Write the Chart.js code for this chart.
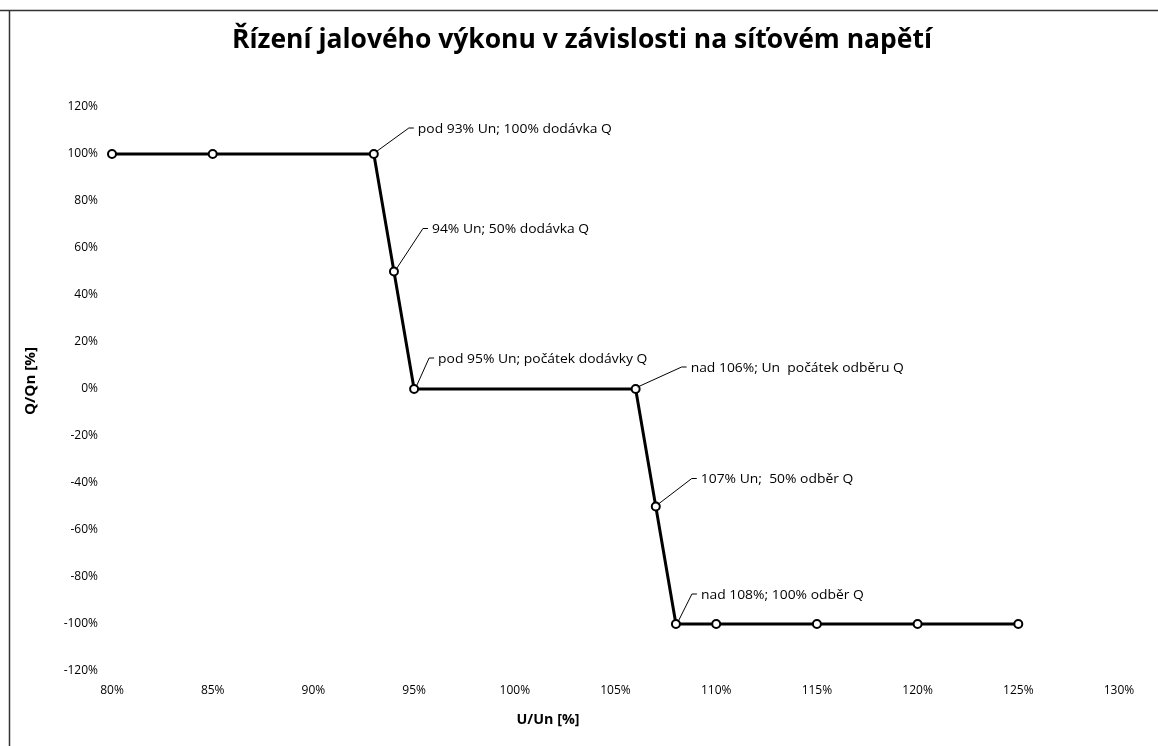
<!DOCTYPE html>
<html>
<head>
<meta charset="utf-8">
<script src="https://cdn.jsdelivr.net/npm/chart.js@4/dist/chart.umd.min.js"></script>
<style>
html,body{margin:0;padding:0;background:#fff;}
#wrap{width:1158px;height:746px;position:relative;}
</style>
</head>
<body>
<div id="wrap"><canvas id="c" width="1158" height="746"></canvas></div>
<script>
const chartTitle = 'Řízení jalového výkonu v závislosti na síťovém napětí';
const xAxisTitle = 'U/Un [%]';
const yAxisTitle = 'Q/Qn [%]';
const xValues = [80, 85, 93, 94, 95, 106, 107, 108, 110, 115, 120, 125];
const yValues = [100, 100, 100, 50, 0, 0, -50, -100, -100, -100, -100, -100];
const xTickValues = [80, 85, 90, 95, 100, 105, 110, 115, 120, 125, 130];
const yTickValues = [-120, -100, -80, -60, -40, -20, 0, 20, 40, 60, 80, 100, 120];
const annotationPoints = [2, 3, 4, 5, 6, 7];
const annotationTexts = [
  'pod 93% Un; 100% dodávka Q',
  '94% Un; 50% dodávka Q',
  'pod 95% Un; počátek dodávky Q',
  'nad 106%; Un  počátek odběru Q',
  '107% Un;  50% odběr Q',
  'nad 108%; 100% odběr Q'
];
const annotationOffsets = [[35,-26],[29,-43],[15,-31],[46,-22],[36,-28],[16,-30]];

const FONT = "'Open Sans', 'DejaVu Sans', sans-serif";

function fitText(ctx, text, x, y, w, align) {
  const m = ctx.measureText(text).width;
  const s = w / m;
  ctx.save();
  ctx.translate(x, y);
  ctx.scale(s, 1);
  ctx.textAlign = align || 'left';
  ctx.fillText(text, 0, 0);
  ctx.restore();
}

const decor = {
  id: 'decor',
  afterDraw(chart) {
    const ctx = chart.ctx;
    const xs = chart.scales.x, ys = chart.scales.y;
    ctx.save();
    // frame
    ctx.strokeStyle = '#333';
    ctx.lineWidth = 1.5;
    ctx.beginPath();
    ctx.moveTo(0, 10.5); ctx.lineTo(1158, 10.5);
    ctx.moveTo(9.5, 10); ctx.lineTo(9.5, 746);
    ctx.stroke();
    // title
    ctx.fillStyle = '#000';
    ctx.textBaseline = 'middle';
    ctx.font = 'bold 26px ' + FONT;
    fitText(ctx, chartTitle, 582, 41, 700, 'center');
    // x axis title
    ctx.font = 'bold 15px ' + FONT;
    fitText(ctx, xAxisTitle, 548, 720, 63, 'center');
    // y axis title
    ctx.save();
    ctx.translate(31, 381);
    ctx.rotate(-Math.PI / 2);
    fitText(ctx, yAxisTitle, 0, 0, 68, 'center');
    ctx.restore();
    // annotations
    ctx.font = '13px ' + FONT;
    const ref = ctx.measureText(annotationTexts[0]).width;
    const sx = 194 / ref;
    ctx.strokeStyle = '#000';
    ctx.lineWidth = 1;
    annotationPoints.forEach((idx, k) => {
      const px = xs.getPixelForValue(xValues[idx]);
      const py = ys.getPixelForValue(yValues[idx]);
      const [dx, dy] = annotationOffsets[k];
      const ex = px + dx, ey = py + dy;
      ctx.beginPath();
      ctx.moveTo(px + 2, py - 2);
      ctx.lineTo(ex, ey);
      ctx.lineTo(ex + 5, ey);
      ctx.stroke();
      ctx.save();
      ctx.translate(ex + 9, ey + 1);
      ctx.scale(sx, 1);
      ctx.textAlign = 'left';
      ctx.fillText(annotationTexts[k], 0, 0);
      ctx.restore();
    });
    ctx.restore();
  }
};

new Chart(document.getElementById('c'), {
  type: 'scatter',
  data: {
    datasets: [{
      data: xValues.map((x, i) => ({x: x, y: yValues[i]})),
      showLine: true,
      clip: false,
      borderColor: '#000',
      borderWidth: 3,
      tension: 0,
      pointRadius: 4,
      pointBorderWidth: 2,
      pointBackgroundColor: '#fff',
      pointBorderColor: '#000'
    }]
  },
  options: {
    responsive: false,
    animation: false,
    layout: {padding: {left: 10, right: 39, top: 107, bottom: 10}},
    plugins: {legend: {display: false}, tooltip: {enabled: false}, title: {display: false}},
    scales: {
      x: {
        type: 'linear', min: 80, max: 130,
        afterBuildTicks: s => { s.ticks = xTickValues.map(v => ({value: v})); },
        afterFit: s => { s.height = 65; },
        grid: {display: false, drawTicks: false},
        border: {display: false},
        ticks: {padding: 12, color: '#000', font: {family: FONT, size: 12}, callback: v => v + '%', maxRotation: 0, autoSkip: false}
      },
      y: {
        type: 'linear', min: -120, max: 120,
        afterBuildTicks: s => { s.ticks = yTickValues.map(v => ({value: v})); },
        afterFit: s => { s.width = 102; },
        grid: {display: false, drawTicks: false},
        border: {display: false},
        ticks: {padding: 14, color: '#000', font: {family: FONT, size: 12}, callback: v => v + '%', autoSkip: false}
      }
    }
  },
  plugins: [decor]
});
</script>
</body>
</html>
